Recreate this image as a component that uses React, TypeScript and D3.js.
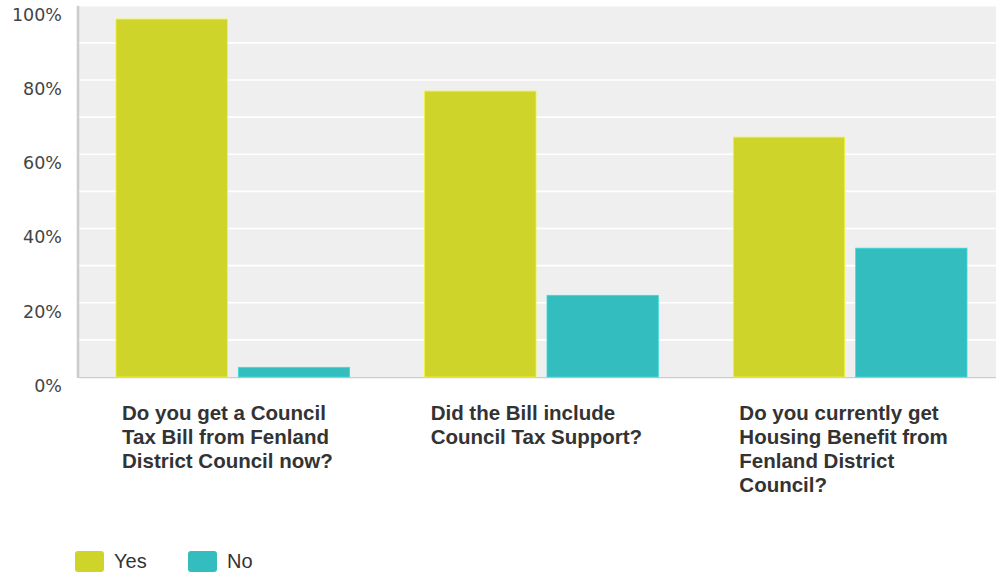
import * as d3 from "d3";

const categories: string[][] = [
    ["Do you get a Council", "Tax Bill from Fenland", "District Council now?"],
    ["Did the Bill include", "Council Tax Support?"],
    ["Do you currently get", "Housing Benefit from", "Fenland District", "Council?"],
];
const seriesNames = ["Yes", "No"];
const yesValues = [96.4, 77.0, 64.6];
const noValues = [2.6, 22.0, 34.7];
const yTicks = [0, 20, 40, 60, 80, 100];
const colors = ["#cfd42a", "#33bdbf"];

const W = 996;
const H = 575;
const plot = {left: 79, right: 1005, top: 5.7, bottom: 377};
const font = "'Liberation Sans', Arial, sans-serif";

export default function App() {
    const x = d3.scaleBand<number>()
        .domain(categories.map((_, i) => i))
        .range([plot.left, plot.right]);
    // two bars per question, 37px in from the band edges
    const inner = d3.scaleBand<number>()
        .domain([0, 1])
        .range([37, x.bandwidth() - 38])
        .paddingInner(0.09);
    const y = d3.scaleLinear().domain([0, 100]).range([plot.bottom, plot.top]);
    const grid = d3.range(0, 101, 10);
    const series = [yesValues, noValues];

    return (
        <svg width={W} height={H} style={{position: "absolute", left: 0, top: 0, background: "#fff"}}
             fontFamily={font}>
            <rect x={plot.left} y={plot.top} width={W - plot.left} height={plot.bottom - plot.top} fill="#efefef"/>
            {grid.map(g => (
                <line key={g} x1={plot.left} x2={W} y1={y(g)} y2={y(g)} stroke="#fff" strokeWidth={1.6}/>
            ))}
            <line x1={78} x2={78} y1={plot.top} y2={plot.bottom + 1} stroke="#cccccc" strokeWidth={2.5}/>
            <line x1={plot.left} x2={W} y1={plot.bottom + 0.5} y2={plot.bottom + 0.5} stroke="#cccccc" strokeWidth={1.5}/>
            {series.map((vals, s) => vals.map((v, i) => (
                <rect key={`${s}-${i}`}
                      x={(x(i) ?? 0) + (inner(s) ?? 0)}
                      y={y(v)}
                      width={inner.bandwidth()}
                      height={y(0) - y(v)}
                      fill={colors[s]}
                      stroke={d3.color(colors[s])!.brighter(0.4).toString()}
                      strokeWidth={0.8}/>
            )))}
            {yTicks.map(t => (
                <text key={t} x={62} y={y(t) + 15} textAnchor="end" fontSize={17.5}
                      fontFamily="'DejaVu Sans', Verdana, sans-serif" fill="#444">{t}%</text>
            ))}
            {categories.map((lines, i) => (
                <text key={i} fontSize={20.5} fontWeight="bold" fill="#333">
                    {lines.map((l, j) => (
                        <tspan key={j} x={(x(i) ?? 0) + 43} y={419.5 + j * 24}>{l}</tspan>
                    ))}
                </text>
            ))}
            {seriesNames.map((n, s) => (
                <g key={n} transform={`translate(${75 + s * 113},551)`}>
                    <rect width={29} height={21} rx={3} fill={colors[s]}/>
                    <text x={39} y={17} fontSize={20} fill="#333">{n}</text>
                </g>
            ))}
        </svg>
    );
}
